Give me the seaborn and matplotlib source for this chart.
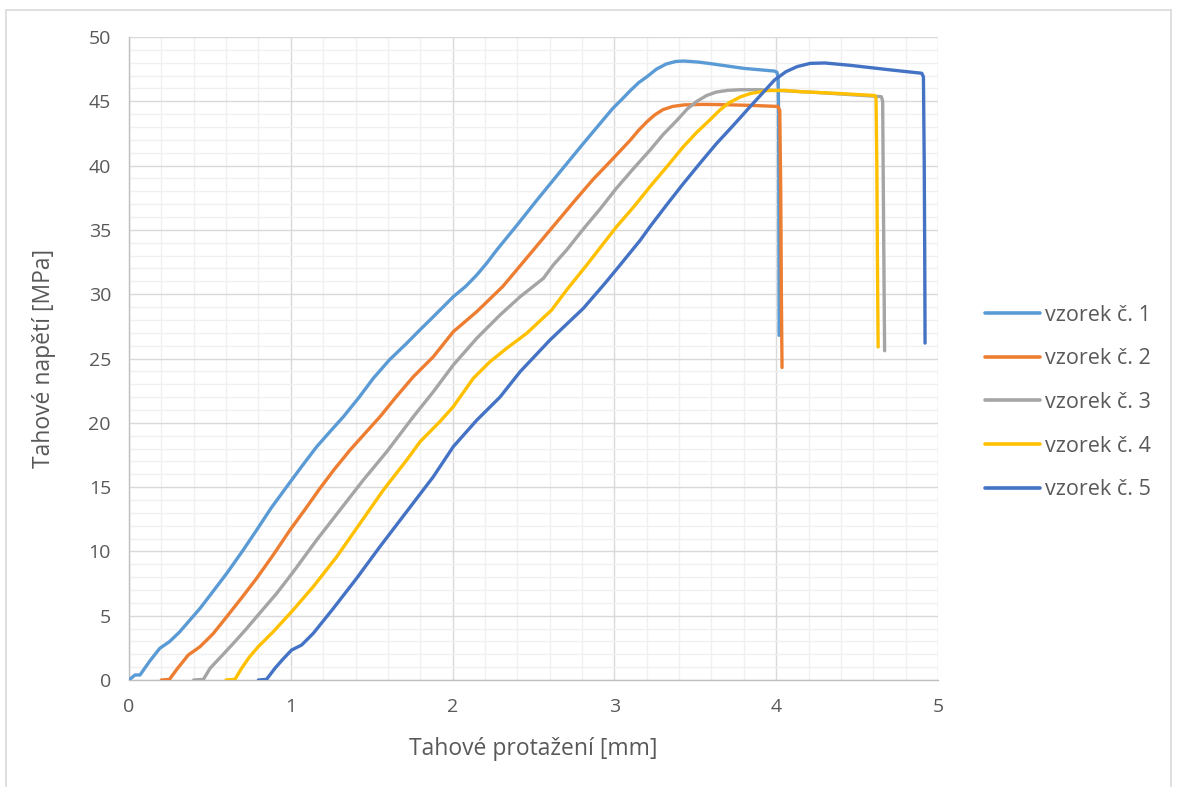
import matplotlib
matplotlib.use("Agg")
import matplotlib.pyplot as plt
from matplotlib.ticker import MultipleLocator
from matplotlib.lines import Line2D
import seaborn as sns
import pandas as pd

# Tensile test curves: elongation [mm] vs. stress [MPa]
sample_names = ["vzorek č. 1", "vzorek č. 2", "vzorek č. 3", "vzorek č. 4", "vzorek č. 5"]
sample_colors = ["#5B9BD5", "#ED7D31", "#A5A5A5", "#FFC000", "#4472C4"]

x1 = [0.0, 0.037, 0.068, 0.13, 0.19, 0.25, 0.31, 0.377, 0.439, 0.52, 0.604, 0.70, 0.789, 0.88,
      0.975, 1.07, 1.16, 1.245, 1.325, 1.42, 1.51, 1.61, 1.716, 1.80, 1.881, 2.004, 2.08, 2.149,
      2.21, 2.273, 2.40, 2.52, 2.65, 2.80, 2.90, 2.99, 3.05, 3.10, 3.15, 3.20, 3.26, 3.32, 3.38,
      3.43, 3.52, 3.61, 3.80, 3.99, 4.005, 4.012, 4.015, 4.018]
y1 = [0.0, 0.39, 0.39, 1.5, 2.46, 2.98, 3.7, 4.67, 5.57, 6.9, 8.29, 10.0, 11.66, 13.4,
      15.03, 16.65, 18.14, 19.35, 20.47, 21.95, 23.46, 24.9, 26.18, 27.25, 28.25, 29.8, 30.6, 31.49,
      32.4, 33.44, 35.4, 37.3, 39.3, 41.6, 43.1, 44.45, 45.2, 45.85, 46.45, 46.9, 47.5, 47.9, 48.1,
      48.13, 48.05, 47.9, 47.56, 47.35, 47.25, 46.8, 44.0, 26.8]

x2 = [0.20, 0.25, 0.30, 0.366, 0.439, 0.52, 0.604, 0.70, 0.789, 0.89, 0.995, 1.09, 1.18, 1.27,
      1.366, 1.46, 1.551, 1.65, 1.757, 1.881, 2.004, 2.149, 2.31, 2.40, 2.50, 2.60, 2.757, 2.87,
      2.973, 3.04, 3.096, 3.15, 3.20, 3.25, 3.30, 3.36, 3.43, 3.55, 3.70, 3.85, 4.01, 4.022,
      4.028, 4.032, 4.036]
y2 = [0.0, 0.05, 0.9, 1.94, 2.59, 3.6, 4.92, 6.45, 7.91, 9.7, 11.66, 13.3, 14.9, 16.4,
      17.88, 19.2, 20.47, 22.0, 23.58, 25.14, 27.08, 28.64, 30.6, 31.95, 33.45, 34.95, 37.3, 38.95,
      40.3, 41.2, 41.95, 42.75, 43.4, 43.95, 44.35, 44.6, 44.72, 44.76, 44.73, 44.68, 44.6, 44.3,
      38.0, 30.0, 24.3]

x3 = [0.40, 0.46, 0.501, 0.575, 0.645, 0.72, 0.789, 0.913, 1.016, 1.16, 1.304, 1.448, 1.593,
      1.757, 1.881, 2.004, 2.149, 2.293, 2.417, 2.561, 2.622, 2.705, 2.81, 2.91, 3.01, 3.12, 3.22,
      3.30, 3.385, 3.45, 3.51, 3.57, 3.63, 3.70, 3.78, 3.90, 4.0, 4.15, 4.30, 4.48, 4.65, 4.658,
      4.664, 4.67]
y3 = [0.0, 0.05, 0.91, 1.9, 2.85, 3.9, 4.92, 6.74, 8.42, 10.89, 13.22, 15.55, 17.75,
      20.47, 22.42, 24.49, 26.57, 28.38, 29.8, 31.23, 32.27, 33.44, 35.1, 36.6, 38.2, 39.8, 41.2,
      42.4, 43.5, 44.4, 45.0, 45.45, 45.72, 45.85, 45.9, 45.9, 45.85, 45.75, 45.65, 45.5, 45.36, 45.0,
      35.0, 25.6]

x4 = [0.60, 0.655, 0.696, 0.745, 0.799, 0.892, 1.005, 1.139, 1.284, 1.428, 1.572, 1.716, 1.799,
      1.922, 2.004, 2.128, 2.231, 2.334, 2.458, 2.612, 2.705, 2.829, 2.911, 3.01, 3.12, 3.22, 3.33,
      3.426, 3.51, 3.59, 3.65, 3.71, 3.78, 3.84, 3.94, 4.05, 4.15, 4.40, 4.61, 4.617, 4.622, 4.626,
      4.63]
y4 = [0.0, 0.05, 0.91, 1.8, 2.59, 3.76, 5.31, 7.26, 9.59, 12.18, 14.77, 17.1, 18.53,
      20.1, 21.25, 23.46, 24.75, 25.79, 26.96, 28.77, 30.33, 32.27, 33.6, 35.2, 36.8, 38.36, 40.0,
      41.47, 42.6, 43.55, 44.3, 44.9, 45.35, 45.6, 45.83, 45.85, 45.75, 45.6, 45.45, 45.2, 40.0, 32.0,
      25.9]

x5 = [0.80, 0.85, 0.902, 0.95, 1.005, 1.067, 1.139, 1.263, 1.407, 1.551, 1.716, 1.881, 2.004,
      2.149, 2.293, 2.417, 2.602, 2.808, 2.942, 3.035, 3.16, 3.22, 3.32, 3.426, 3.53, 3.63, 3.74,
      3.84, 3.92, 3.99, 4.06, 4.13, 4.21, 4.30, 4.456, 4.70, 4.90, 4.91, 4.915, 4.918, 4.92]
y5 = [0.0, 0.05, 0.91, 1.6, 2.33, 2.72, 3.63, 5.57, 7.91, 10.37, 13.09, 15.81, 18.14,
      20.2, 22.0, 23.97, 26.44, 28.9, 30.85, 32.27, 34.2, 35.25, 36.9, 38.6, 40.2, 41.7, 43.2,
      44.6, 45.7, 46.66, 47.3, 47.7, 47.95, 47.98, 47.8, 47.45, 47.18, 46.9, 40.0, 33.0, 26.2]

series_x = [x1, x2, x3, x4, x5]
series_y = [y1, y2, y3, y4, y5]

frames = []
for name, xs, ys in zip(sample_names, series_x, series_y):
    frames.append(pd.DataFrame({"protazeni": xs, "napeti": ys, "vzorek": name}))
df = pd.concat(frames, ignore_index=True)

sns.set_style("white")
plt.rcParams["font.family"] = ["Open Sans", "DejaVu Sans"]

text_color = "#595959"
fig = plt.figure(figsize=(11.77, 7.87), dpi=100)
ax = fig.add_axes([129 / 1177, 1 - 680 / 787, (938 - 129) / 1177, (680 - 37) / 787])

sns.lineplot(data=df, x="protazeni", y="napeti", hue="vzorek", hue_order=sample_names,
             palette=sample_colors, sort=False, estimator=None, linewidth=2.4,
             ax=ax, legend=False, zorder=3)
for line in ax.get_lines():
    line.set_solid_joinstyle("round")
    line.set_solid_capstyle("round")

ax.set_xlim(0, 5)
ax.set_ylim(0, 50)
ax.xaxis.set_major_locator(MultipleLocator(1))
ax.xaxis.set_minor_locator(MultipleLocator(0.2))
ax.yaxis.set_major_locator(MultipleLocator(5))
ax.yaxis.set_minor_locator(MultipleLocator(1))
ax.grid(which="major", color="#D9D9D9", linewidth=1.0, zorder=0)
ax.grid(which="minor", color="#F0F0F0", linewidth=1.0, zorder=0)
ax.set_axisbelow(True)

for side in ["top", "right"]:
    ax.spines[side].set_visible(False)
for side in ["left", "bottom"]:
    ax.spines[side].set_color("#BFBFBF")
    ax.spines[side].set_linewidth(1.0)

ax.tick_params(which="major", direction="out", length=5, width=1, color="#BFBFBF",
               labelcolor=text_color, labelsize=14, pad=8)
ax.tick_params(which="minor", length=0)

ax.set_xlabel("Tahové protažení [mm]", fontsize=16.5, color=text_color)
ax.set_ylabel("Tahové napětí [MPa]", fontsize=16.5, color=text_color)
ax.xaxis.set_label_coords(0.5, -(737 - 680) / 643)
ax.yaxis.set_label_coords(-(129 - 56) / 809, 0.5)

handles = [Line2D([0], [0], color=c, linewidth=2.6, solid_capstyle="round") for c in sample_colors]
leg = fig.legend(handles, sample_names, loc="center left",
                 bbox_to_anchor=(985 / 1177, 1 - 402.5 / 787), frameon=False,
                 fontsize=15.5, handlelength=2.55, handletextpad=0.25, labelspacing=1.05,
                 borderpad=0, borderaxespad=0)
for t in leg.get_texts():
    t.set_color(text_color)

# light frame around the chart area
frame_kw = dict(color="#D9D9D9", linewidth=1.2, transform=fig.transFigure)
fig.add_artist(Line2D([6 / 1177, 6 / 1177], [0, 1 - 10 / 787], **frame_kw))
fig.add_artist(Line2D([6 / 1177, 1171 / 1177], [1 - 10 / 787, 1 - 10 / 787], **frame_kw))
fig.add_artist(Line2D([1171 / 1177, 1171 / 1177], [0, 1 - 10 / 787], **frame_kw))

fig.savefig("out.png", dpi=100, facecolor="white")
